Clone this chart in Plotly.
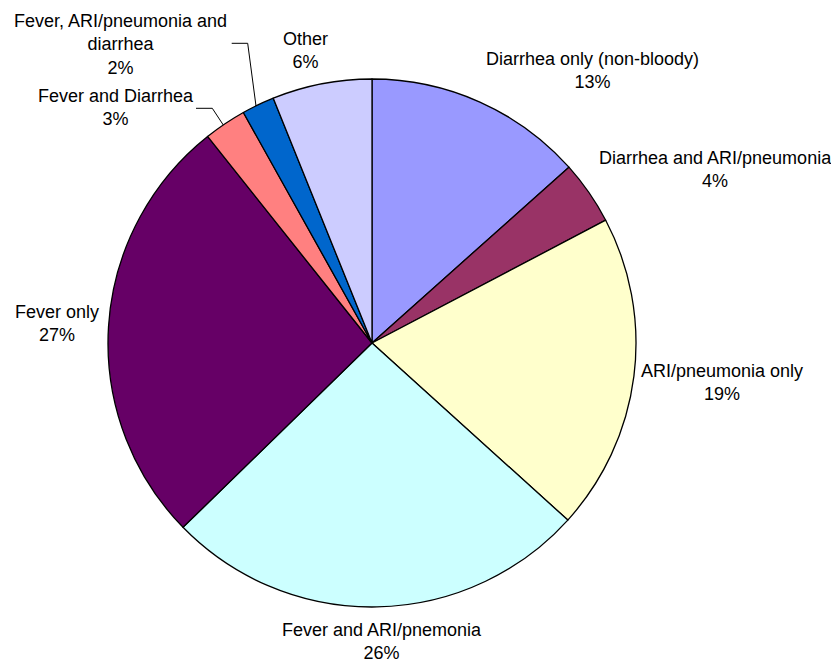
import plotly.graph_objects as go

# ---- data ----
categories = [
    "Diarrhea only (non-bloody)",
    "Diarrhea and ARI/pneumonia",
    "ARI/pneumonia only",
    "Fever and ARI/pnemonia",
    "Fever only",
    "Fever and Diarrhea",
    "Fever, ARI/pneumonia and diarrhea",
    "Other",
]
values = [13.4, 3.9, 19.4, 26.0, 26.6, 2.6, 2.0, 6.1]
colors = ["#9999FF", "#993366", "#FFFFCC", "#CCFFFF", "#660066", "#FF8080", "#0066CC", "#CCCCFF"]

# label display text (with line breaks as in the reference)
label_text = [
    "Diarrhea only (non-bloody)",
    "Diarrhea and ARI/pneumonia",
    "ARI/pneumonia only",
    "Fever and ARI/pnemonia",
    "Fever only",
    "Fever and Diarrhea",
    "Fever, ARI/pneumonia and<br>diarrhea",
    "Other",
]

# ---- layout constants (pixels) ----
W, H = 831, 662
cx, cy, R = 372, 343, 264
label_pos = [
    (592, 71), (715, 170), (722, 382), (382, 641),
    (57, 324), (116, 108), (120, 44), (305, 51),
]
leaders = [
    [(231.7, 43.3), (247.7, 43.3), (256, 106)],
    [(196, 108.3), (212.3, 108.3), (223.3, 125)],
]

def px(x):
    return x / W

def py(y):
    return 1 - y / H

total = sum(values)

fig = go.Figure(go.Pie(
    labels=categories,
    values=values,
    marker=dict(colors=colors, line=dict(color="black", width=1.3)),
    sort=False,
    direction="clockwise",
    rotation=0,
    textinfo="none",
    hoverinfo="label+percent",
    domain=dict(x=[px(cx - R), px(cx + R)], y=[py(cy + R), py(cy - R)]),
    showlegend=False,
))

annotations = []
for txt, v, (x, y) in zip(label_text, values, label_pos):
    annotations.append(dict(
        x=px(x), y=py(y), xref="paper", yref="paper",
        text=f"{txt}<br>{round(v / total * 100):.0f}%",
        showarrow=False, xanchor="center", yanchor="middle", align="center",
        font=dict(family="Liberation Sans, Arial, sans-serif", size=18, color="black"),
    ))

shapes = []
for pts in leaders:
    for (x0, y0), (x1, y1) in zip(pts[:-1], pts[1:]):
        shapes.append(dict(type="line", xref="paper", yref="paper",
                           x0=px(x0), y0=py(y0), x1=px(x1), y1=py(y1),
                           line=dict(color="black", width=1)))

fig.update_layout(
    width=W, height=H,
    margin=dict(l=0, r=0, t=0, b=0),
    paper_bgcolor="white", plot_bgcolor="white",
    annotations=annotations, shapes=shapes,
)

fig.write_html("out.html")
